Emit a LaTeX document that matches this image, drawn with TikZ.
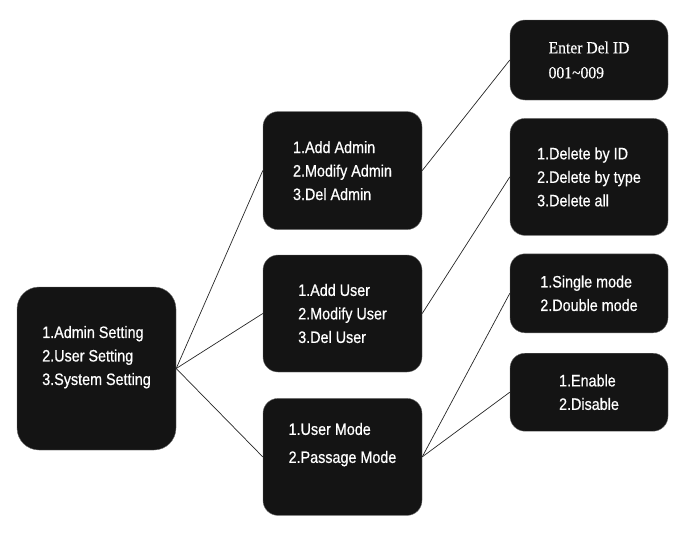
\documentclass[tikz,border=0pt]{standalone}
\usepackage{fontspec}
\setmainfont{Liberation Sans}[FakeStretch=0.87, FakeBold=0.6]
\newfontfamily\lcdserif{Liberation Serif}[FakeStretch=0.92, FakeBold=0.4]
\usepackage{tikz}
\usetikzlibrary{positioning}
\tikzstyle{menubox} = [rounded corners=15pt, fill=black!92, draw=black!55, text=white, align=left, minimum width=159pt, minimum height=117pt, inner sep=0pt, font=\fontsize{16.5}{23.5}\selectfont]
\tikzstyle{link} = [line width=0.7pt, black!85]

\begin{document}
\begin{tikzpicture}[x=1pt, y=-1pt]
    \useasboundingbox (0,0) rectangle (684,538);
    % menus
    \node (main) [menubox, minimum height=163pt, rounded corners=22pt, text depth=26pt] at (96.5,368.5) {1.Admin Setting\\2.User Setting\\3.System Setting};
    \node (user) [menubox] at (342.5,313.5) {1.Add User\\2.Modify User\\3.Del User};
    \node (admin) [menubox, minimum height=118pt, above=25pt of user] {1.Add Admin\\2.Modify Admin\\3.Del Admin};
    \node (mode) [menubox, below=26pt of user, font=\fontsize{16.5}{28}\selectfont, text depth=28pt] {1.User Mode\\2.Passage Mode};
    % sub menus
    \node (delid) [menubox, minimum width=158pt, minimum height=80pt, font=\lcdserif\fontsize{17}{25}\selectfont] at (589,60) {Enter Del ID\\001\textasciitilde009};
    \node (delete) [menubox, minimum width=158pt, below=18pt of delid] {1.Delete by ID\\2.Delete by type\\3.Delete all};
    \node (single) [menubox, minimum width=158pt, minimum height=79pt, below=18pt of delete] {1.Single mode\\2.Double mode};
    \node (enable) [menubox, minimum width=158pt, minimum height=78pt, below=20pt of single] {1.Enable\\2.Disable};
    % links
    \draw [link] (main.east) -- (admin.west);
    \draw [link] (main.east) -- (user.west);
    \draw [link] (main.east) -- (mode.west);
    \draw [link] (admin.east) -- (delid.west);
    \draw [link] (user.east) -- (delete.west);
    \draw [link] (mode.east) -- (single.west);
    \draw [link] (mode.east) -- (enable.west);
\end{tikzpicture}
\end{document}
